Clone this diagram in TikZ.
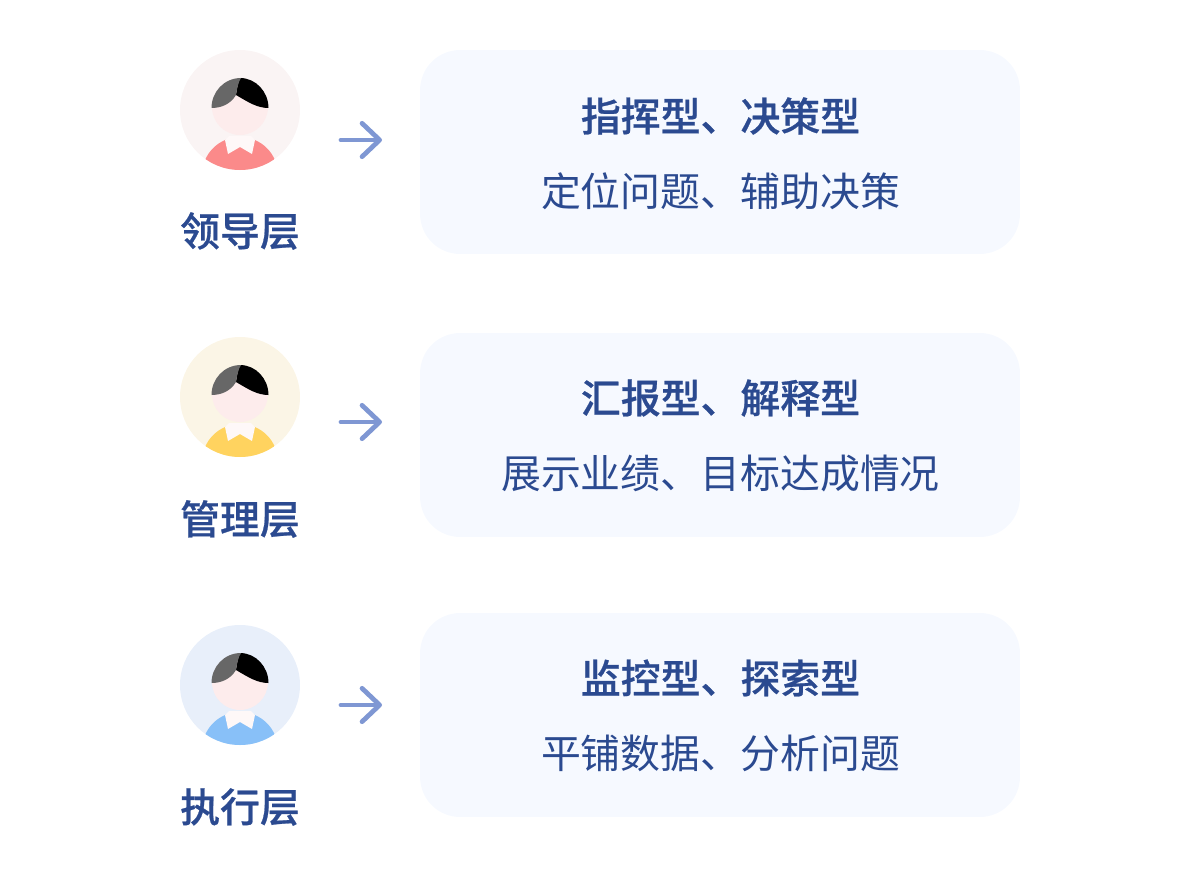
\documentclass[tikz,border=0pt]{standalone}
\usepackage{fontspec}
\usetikzlibrary{arrows.meta}
\newfontfamily\cjk{Noto Sans CJK SC}
\newfontfamily\cjkmid[FakeBold=0.6]{Noto Sans CJK SC Medium}

\definecolor{inkblue}{HTML}{2B4A90}
\definecolor{arrowblue}{HTML}{7F97D3}
\definecolor{boxfill}{HTML}{F6F9FF}
\definecolor{facepink}{HTML}{FDECEC}
\definecolor{hairgray}{HTML}{676767}
\definecolor{collarwhite}{HTML}{FEF8F8}
\definecolor{bgrose}{HTML}{FAF4F4}
\definecolor{bgcream}{HTML}{FBF5E6}
\definecolor{bgblue}{HTML}{E8EFFA}
\definecolor{shirtred}{HTML}{FB8A8A}
\definecolor{shirtyellow}{HTML}{FFD35F}
\definecolor{shirtblue}{HTML}{88C0F8}

\tikzset{
  x=0.02cm, y=-0.02cm,
  infobox/.style={fill=boxfill, rounded corners=0.8cm, minimum width=12cm, minimum height=4.08cm},
  headtext/.style={font=\cjkmid\fontsize{22.7}{26}\selectfont, text=inkblue, inner sep=0pt},
  subtext/.style={font=\cjk\fontsize{22.7}{26}\selectfont, text=inkblue, inner sep=0pt},
  levelarrow/.style={draw=arrowblue, line width=2.7pt, line cap=round, -{Straight Barb[length=10pt,width=19pt,line width=2.7pt,round]}},
  pics/avatar/.style n args={2}{code={
    \fill[#1] (0,0) circle[radius=60];
    \begin{scope}
      \clip (0,0) circle[radius=60];
      \fill[#2] (0,65) circle[radius=38];
    \end{scope}
    % collar
    \fill[collarwhite] (-15,30) -- (-12,44) -- (0,37) -- (12,44) -- (15,30) -- (11,26) -- (-11,26) -- cycle;
    \fill[facepink] (0,-3) circle[radius=28];
    % hair
    \fill[black] (0,-32) .. controls (16,-32) and (28.5,-18) .. (28.5,-2)
      .. controls (17,-2) and (8,-8) .. (-4,-15) .. controls (-3,-22) and (-2,-27) .. (0,-32) -- cycle;
    \fill[hairgray] (1,-32) .. controls (-16,-32) and (-28.5,-18) .. (-28.5,-2)
      .. controls (-20,-2) and (-10,-5) .. (-4,-15) .. controls (-3,-22) and (-2,-27) .. (1,-32) -- cycle;
  }},
}

\begin{document}
\begin{tikzpicture}

\useasboundingbox (0,0) rectangle (1200,875);

\pic at (240,110) {avatar={bgrose}{shirtred}};
\pic at (240,397) {avatar={bgcream}{shirtyellow}};
\pic at (240,685) {avatar={bgblue}{shirtblue}};

\node[headtext] (lead) at (240,231) {领导层};
\node[headtext] (manage) at (240,519) {管理层};
\node[headtext] (exec) at (240,807) {执行层};

\node[infobox] (box1) at (720,152) {};
\node[infobox] (box2) at (720,435) {};
\node[infobox] (box3) at (720,715) {};

\node[headtext] (head1) at (720.5,116) {指挥型、决策型};
\node[subtext] (sub1) at (720.5,191) {定位问题、辅助决策};
\node[headtext] (head2) at (720.5,398) {汇报型、解释型};
\node[subtext] (sub2) at (720.5,473) {展示业绩、目标达成情况};
\node[headtext] (head3) at (720.5,678) {监控型、探索型};
\node[subtext] (sub3) at (720.5,753) {平铺数据、分析问题};

\coordinate (from1) at (341,140);
\coordinate (to1) at (382,140);
\coordinate (from2) at (341,422);
\coordinate (to2) at (382,422);
\coordinate (from3) at (341,705);
\coordinate (to3) at (382,705);

\draw[levelarrow] (from1) -- (to1);
\draw[levelarrow] (from2) -- (to2);
\draw[levelarrow] (from3) -- (to3);

\end{tikzpicture}
\end{document}
